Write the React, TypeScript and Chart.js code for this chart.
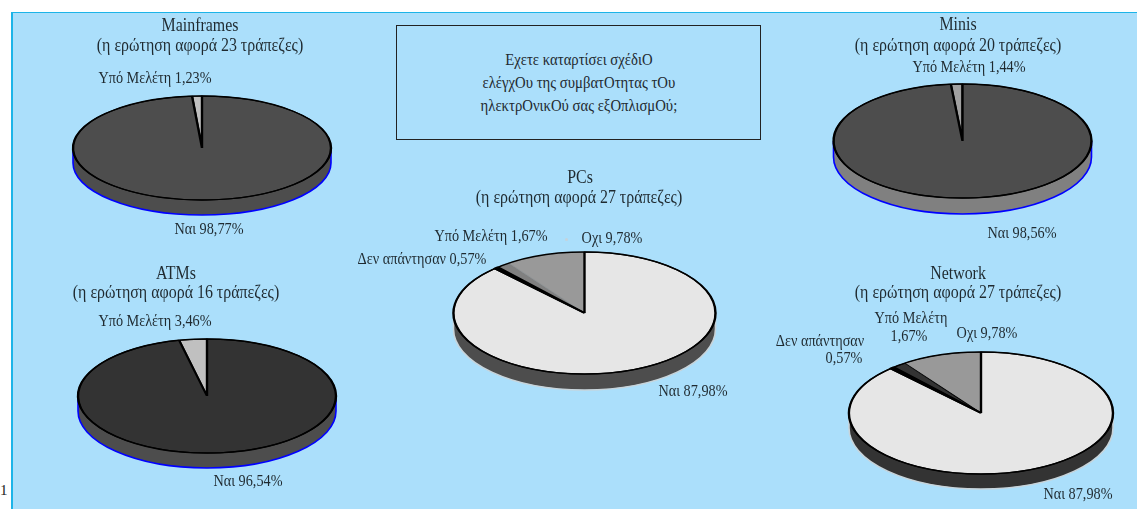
import React, { useEffect, useRef } from "react";
import { Chart, registerables } from "chart.js";

Chart.register(...registerables);

const FONT = '"Liberation Serif"';
const INK = "#1f2a30";
const CANVAS_W = 1137;
const CANVAS_H = 800;

// Series values (listed clockwise, from the slice that is drawn first)
const mainframesLabels = ["Υπό Μελέτη", "Ναι"];
const mainframesValues = [1.23, 98.77];
const minisLabels = ["Υπό Μελέτη", "Ναι"];
const minisValues = [1.44, 98.56];
const atmsLabels = ["Υπό Μελέτη", "Ναι"];
const atmsValues = [3.46, 96.54];
const pcsLabels = ["Υπό Μελέτη", "Οχι", "Ναι", "Δεν απάντησαν"];
const pcsValues = [1.67, 9.78, 87.98, 0.57];
const networkLabels = ["Υπό Μελέτη", "Οχι", "Ναι", "Δεν απάντησαν"];
const networkValues = [1.67, 9.78, 87.98, 0.57];

const questionLines = [
  "Εχετε καταρτίσει σχέδιΟ",
  "ελέγχΟυ της συμβατΟτητας τΟυ",
  "ηλεκτρΟνικΟύ σας εξΟπλισμΟύ;",
];

type Txt = [string, number, number];
type Pie = {
  labels: string[];
  values: number[];
  colors: string[];
  borders: string[];
  widths: number[];
  cx: number; cy: number; rx: number; ry: number; depth: number;
  side: string; rim: string;
  texts: Txt[]; // title lines
  notes: Txt[]; // slice labels
};

const pies: Pie[] = [
  {
    labels: mainframesLabels, values: mainframesValues,
    colors: ["#c0c0c0", "#4d4d4d"], borders: ["#000", "#000"], widths: [2, 2.4],
    cx: 202, cy: 148, rx: 129, ry: 52, depth: 15, side: "#4d4d4d", rim: "#0000ff",
    texts: [["Mainframes", 200, 26], ["(η ερώτηση αφορά 23 τράπεζες)", 200, 46]],
    notes: [["Υπό Μελέτη 1,23%", 155, 79], ["Ναι 98,77%", 209, 230]],
  },
  {
    labels: minisLabels, values: minisValues,
    colors: ["#a0a0a0", "#4d4d4d"], borders: ["#000", "#000"], widths: [2, 2.4],
    cx: 962.5, cy: 141, rx: 129, ry: 57, depth: 16, side: "#808080", rim: "#0000ff",
    texts: [["Minis", 958, 25], ["(η ερώτηση αφορά 20 τράπεζες)", 958, 46]],
    notes: [["Υπό Μελέτη 1,44%", 969, 68], ["Ναι 98,56%", 1022, 234]],
  },
  {
    labels: atmsLabels, values: atmsValues,
    colors: ["#c0c0c0", "#333333"], borders: ["#000", "#000"], widths: [2, 2.4],
    cx: 207, cy: 396, rx: 129, ry: 57, depth: 15, side: "#4d4d4d", rim: "#0000ff",
    texts: [["ATMs", 176, 274], ["(η ερώτηση αφορά 16 τράπεζες)", 176, 293]],
    notes: [["Υπό Μελέτη 3,46%", 155, 322], ["Ναι 96,54%", 248, 482]],
  },
  {
    labels: pcsLabels, values: pcsValues,
    colors: ["#808080", "#999999", "#e6e6e6", "#000000"],
    borders: ["#808080", "#808080", "#000", "#000"], widths: [0.6, 0.6, 2.4, 3],
    cx: 584.5, cy: 313, rx: 131, ry: 61, depth: 16, side: "#4d4d4d", rim: "#c8d4da",
    texts: [["PCs", 580, 178], ["(η ερώτηση αφορά 27 τράπεζες)", 579, 198]],
    notes: [
      ["Υπό Μελέτη 1,67%", 491, 237], ["Οχι 9,78%", 612, 239],
      ["Δεν απάντησαν 0,57%", 422, 260], ["Ναι 87,98%", 693, 392],
    ],
  },
  {
    labels: networkLabels, values: networkValues,
    colors: ["#333333", "#999999", "#e6e6e6", "#000000"],
    borders: ["#000", "#000", "#000", "#000"], widths: [1.2, 1.2, 2.4, 3],
    cx: 981, cy: 413, rx: 132, ry: 61, depth: 15, side: "#333333", rim: "#c8d4da",
    texts: [["Network", 958, 274], ["(η ερώτηση αφορά 27 τράπεζες)", 958, 293]],
    notes: [
      ["Υπό Μελέτη", 911, 319], ["1,67%", 909, 337], ["Οχι 9,78%", 987, 334],
      ["Δεν απάντησαν", 820, 342], ["0,57%", 844, 359], ["Ναι 87,98%", 1078, 495],
    ],
  },
];

function drawText(ctx: any, t: string, x: number, y: number, sx: number) {
  ctx.save();
  ctx.translate(x, y);
  ctx.scale(sx, 1);
  ctx.fillText(t, 0, 0);
  ctx.restore();
}

function makePlugin(p: Pie) {
  return {
    id: "flatPie",
    beforeDatasetsDraw(chart: any) {
      const ctx = chart.ctx;
      const arc = chart.getDatasetMeta(0).data[0];
      const { x, y, outerRadius: r } = arc;
      const k = p.ry / r;
      const ry = r * k;
      ctx.save();
      // side wall
      ctx.beginPath();
      ctx.ellipse(x, y + p.depth, r, ry, 0, 0, Math.PI);
      ctx.lineTo(x - r, y);
      ctx.lineTo(x + r, y);
      ctx.closePath();
      ctx.fillStyle = p.side;
      ctx.fill();
      ctx.beginPath();
      ctx.moveTo(x + r, y);
      ctx.lineTo(x + r, y + p.depth);
      ctx.ellipse(x, y + p.depth, r, ry, 0, 0, Math.PI);
      ctx.lineTo(x - r, y);
      ctx.strokeStyle = p.rim;
      ctx.lineWidth = 1.6;
      ctx.stroke();
      ctx.restore();
      // flatten the slices
      ctx.save();
      ctx.translate(x, y);
      ctx.scale(1, k);
      ctx.translate(-x, -y);
    },
    afterDatasetsDraw(chart: any) {
      const ctx = chart.ctx;
      ctx.restore();
      const arc = chart.getDatasetMeta(0).data[0];
      const { x, y, outerRadius: r } = arc;
      ctx.save();
      ctx.beginPath();
      ctx.ellipse(x, y, r, p.ry, 0, 0, Math.PI * 2);
      ctx.strokeStyle = "#000";
      ctx.lineWidth = 1.3;
      ctx.stroke();
      ctx.fillStyle = INK;
      ctx.textAlign = "center";
      ctx.textBaseline = "middle";
      ctx.font = `18px ${FONT}`;
      p.texts.forEach(([t, tx, ty]) => drawText(ctx, t, tx, ty, 0.885));
      ctx.font = `16px ${FONT}`;
      p.notes.forEach(([t, tx, ty]) => drawText(ctx, t, tx, ty, 0.89));
      ctx.restore();
    },
  };
}

function PieCanvas({ p }: { p: Pie }) {
  const ref = useRef<HTMLCanvasElement>(null);
  useEffect(() => {
    const total = p.values.reduce((a, b) => a + b, 0);
    const leading = p.values.slice(0, p.labels.indexOf("Ναι")).reduce((a, b) => a + b, 0);
    const grow = Math.max(...p.widths) / 2; // Chart.js shrinks the radius by half the widest border
    const chart = new Chart(ref.current as HTMLCanvasElement, {
      type: "pie",
      data: {
        labels: p.labels,
        datasets: [
          {
            data: p.values,
            backgroundColor: p.colors,
            borderColor: p.borders,
            borderWidth: p.widths,
            hoverOffset: 0,
          },
        ],
      },
      options: {
        responsive: false,
        animation: false,
        devicePixelRatio: 1,
        rotation: (-leading / total) * 360,
        layout: {
          padding: {
            left: p.cx - p.rx - grow,
            right: CANVAS_W - p.cx - p.rx - grow,
            top: p.cy - p.rx - grow,
            bottom: CANVAS_H - p.cy - p.rx - grow,
          },
        },
        plugins: { legend: { display: false }, title: { display: false }, tooltip: { enabled: false } },
      },
      plugins: [makePlugin(p)],
    } as any);
    return () => chart.destroy();
  }, [p]);
  return (
    <canvas
      ref={ref}
      width={CANVAS_W}
      height={CANVAS_H}
      style={{ position: "absolute", left: 0, top: 0, width: CANVAS_W, height: CANVAS_H }}
    />
  );
}

export default function App() {
  return (
    <div style={{ position: "fixed", left: 0, top: 0, width: 1137, height: 509, overflow: "hidden", background: "#fff", fontFamily: FONT }}>
      <div
        style={{
          position: "absolute", left: 11, top: 12, right: 0, bottom: 0,
          background: "#abdffb", borderTop: "1px solid #1cb4e8", borderLeft: "2px solid #1cb4e8",
        }}
      />
      <div style={{ position: "absolute", left: 0, top: 483, fontSize: 15, lineHeight: "14px", color: "#222" }}>1</div>
      <div
        style={{
          position: "absolute", left: 396, top: 25, width: 363, height: 113, border: "1px solid #222",
          boxSizing: "content-box", display: "flex", flexDirection: "column", justifyContent: "center",
          alignItems: "center", fontSize: 16, lineHeight: "23px", color: INK,
        }}
      >
        <div style={{ transform: "scaleX(0.92)", textAlign: "center", whiteSpace: "nowrap" }}>
          {questionLines.map((l) => (
            <div key={l}>{l}</div>
          ))}
        </div>
      </div>
      <div style={{ position: "absolute", left: 565, top: 238, width: 3, height: 3, borderRadius: 2, background: "#c5d3db" }} />
      {pies.map((p, i) => (
        <PieCanvas key={i} p={p} />
      ))}
    </div>
  );
}
